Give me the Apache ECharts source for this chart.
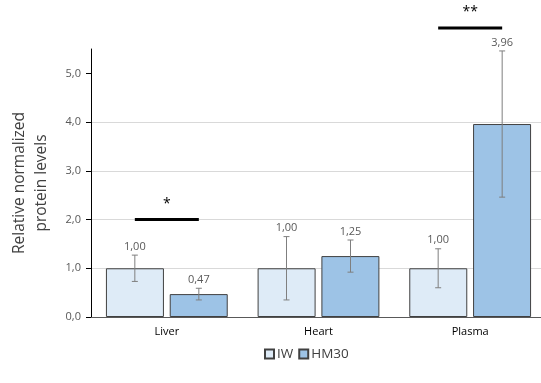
<!DOCTYPE html>
<html><head><meta charset="utf-8">
<script src="https://cdn.jsdelivr.net/npm/echarts@6/dist/echarts.min.js"></script>
<style>html,body{margin:0;padding:0;background:#fff}#c{width:541px;height:383px}</style>
</head><body><div id="c"></div>
<script>
const categories = ['Liver', 'Heart', 'Plasma'];
const seriesNames = ['IW', 'HM30'];
const iwValues = [1.00, 1.00, 1.00];
const hm30Values = [0.47, 1.25, 3.96];
const iwErrors = [0.27, 0.65, 0.40];
const hm30Errors = [0.12, 0.33, 1.50];
const yTicks = [0, 1, 2, 3, 4, 5];
const sigCategories = [0, 2];
const sigLevels = [2.0, 5.93];
const sigLabels = ['*', '**'];

const FONT = '"Open Sans", "Noto Sans", sans-serif';
const fmt = v => v.toFixed(2).replace('.', ',');
const BAR_W = 58;
const OFFSET = 32;

function errorRender(offset) {
  return function (params, api) {
    const c = api.value(0), v = api.value(1), e = api.value(2);
    const top = api.coord([c, v + e]);
    const bot = api.coord([c, v - e]);
    const x = top[0] + offset;
    const st = { stroke: '#7f7f7f', lineWidth: 1 };
    return {
      type: 'group',
      children: [
        { type: 'line', shape: { x1: x, y1: top[1], x2: x, y2: bot[1] }, style: st },
        { type: 'line', shape: { x1: x - 3, y1: top[1], x2: x + 3, y2: top[1] }, style: st },
        { type: 'line', shape: { x1: x - 3, y1: bot[1], x2: x + 3, y2: bot[1] }, style: st },
        { type: 'text', x: x, y: top[1] - 3,
          style: { text: fmt(v), fill: '#595959', font: '11px ' + FONT, align: 'center', verticalAlign: 'bottom' } }
      ]
    };
  };
}

function sigRender(params, api) {
  const c = api.value(0), lvl = api.value(1);
  const p = api.coord([c, lvl]);
  const label = sigLabels[params.dataIndex];
  return {
    type: 'group',
    children: [
      { type: 'line', shape: { x1: p[0] - OFFSET, y1: p[1], x2: p[0] + OFFSET, y2: p[1] },
        style: { stroke: '#000', lineWidth: 3 } },
      { type: 'text', x: p[0], y: p[1] - 9,
        style: { text: label, fill: '#000', font: '14px ' + FONT, align: 'center', verticalAlign: 'bottom' } }
    ]
  };
}

const chart = echarts.init(document.getElementById('c'), null, { renderer: 'canvas' });
chart.setOption({
  animation: false,
  backgroundColor: '#fff',
  grid: { left: 91, top: 49, width: 455, bottom: 66, containLabel: false, outerBoundsMode: 'none' },
  legend: {
    data: seriesNames,
    left: 259, top: 342,
    itemWidth: 9, itemHeight: 9, itemGap: 5,
    icon: 'rect',
    textStyle: { color: '#404040', fontSize: 13.5, fontFamily: FONT, padding: [0, 0, 0, -2] }
  },
  xAxis: {
    type: 'category',
    data: categories,
    axisLine: { show: true, lineStyle: { color: '#595959', width: 1 } },
    axisTick: { show: false },
    axisLabel: { color: '#000', fontSize: 11, fontFamily: FONT, margin: 9 }
  },
  yAxis: {
    type: 'value',
    min: 0, max: 5.5, interval: 1,
    name: 'Relative normalized\nprotein levels',
    nameLocation: 'middle',
    nameGap: 38,
    nameTextStyle: { color: '#404040', fontSize: 15.5, fontFamily: FONT, lineHeight: 22 },
    axisLine: { show: true, lineStyle: { color: '#000', width: 1 } },
    axisTick: { show: true, length: 5, lineStyle: { color: '#000' }, customValues: yTicks },
    axisLabel: { color: '#595959', fontSize: 11, fontFamily: FONT, margin: 10,
      customValues: yTicks,
      formatter: v => v.toFixed(1).replace('.', ',') },
    splitLine: { show: true, lineStyle: { color: '#d9d9d9', width: 1 }, showMaxLine: false }
  },
  series: [
    { name: 'IW', type: 'bar', data: iwValues, barWidth: BAR_W, barGap: '10%',
      itemStyle: { color: '#deebf7', borderColor: '#404040', borderWidth: 1 } },
    { name: 'HM30', type: 'bar', data: hm30Values, barWidth: BAR_W, barGap: '10%',
      itemStyle: { color: '#9dc3e6', borderColor: '#404040', borderWidth: 1 } },
    { name: 'errIW', type: 'custom', renderItem: errorRender(-OFFSET), clip: false, z: 5,
      encode: { x: 0, y: 1 },
      data: iwValues.map((v, i) => [i, v, iwErrors[i]]) },
    { name: 'errHM30', type: 'custom', renderItem: errorRender(OFFSET), clip: false, z: 5,
      encode: { x: 0, y: 1 },
      data: hm30Values.map((v, i) => [i, v, hm30Errors[i]]) },
    { name: 'sig', type: 'custom', renderItem: sigRender, clip: false, z: 6,
      encode: { x: 0, y: 1 },
      data: sigCategories.map((c, i) => [c, sigLevels[i]]) }
  ]
});
</script>
</body></html>
